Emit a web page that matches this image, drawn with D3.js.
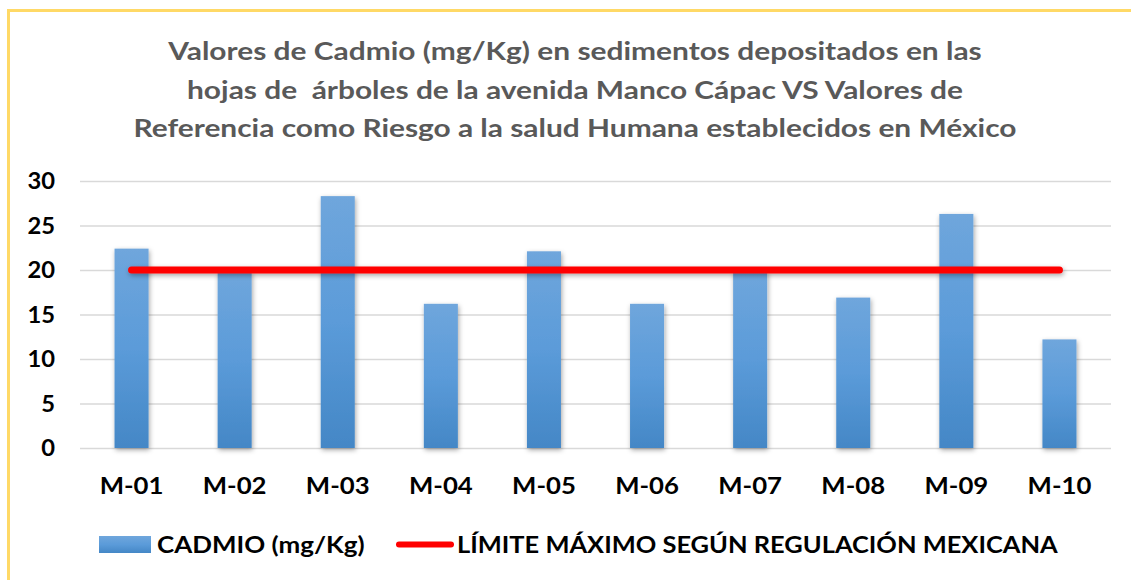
<!DOCTYPE html>
<html>
<head>
<meta charset="utf-8">
<script src="https://cdn.jsdelivr.net/npm/d3@7"></script>
<style>
  body { margin: 0; background: #fff; }
  svg { display: block; }
</style>
</head>
<body>
<div id="chart"></div>
<script>
// datos
var categories = ['M-01', 'M-02', 'M-03', 'M-04', 'M-05', 'M-06', 'M-07', 'M-08', 'M-09', 'M-10'];
var cadmio = [22.4, 19.8, 28.3, 16.2, 22.1, 16.2, 19.9, 16.9, 26.3, 12.2];
var limite = [20, 20, 20, 20, 20, 20, 20, 20, 20, 20];
var yTicks = [0, 5, 10, 15, 20, 25, 30];
var titleLines = [
    'Valores de Cadmio (mg/Kg) en sedimentos depositados en las',
    'hojas de  árboles de la avenida Manco Cápac VS Valores de',
    'Referencia como Riesgo a la salud Humana establecidos en México'
];
var legendNames = ['CADMIO (mg/Kg)', 'LÍMITE MÁXIMO SEGÚN REGULACIÓN MEXICANA'];

var width = 1131, height = 580;
var font = 'Lato, "Open Sans", sans-serif';

// estira el texto para parecerse al ancho de Calibri
function widen(sel, factor) {
    sel.each(function () {
        var len = this.getComputedTextLength();
        d3.select(this)
            .attr('textLength', len * factor)
            .attr('lengthAdjust', 'spacingAndGlyphs');
    });
}

var svg = d3.select('#chart').append('svg')
    .attr('width', width)
    .attr('height', height);

var defs = svg.append('defs');

var grad = defs.append('linearGradient')
    .attr('id', 'barGrad')
    .attr('x1', 0).attr('y1', 0).attr('x2', 0).attr('y2', 1);
grad.append('stop').attr('offset', '0%').attr('stop-color', '#6fa6dc');
grad.append('stop').attr('offset', '50%').attr('stop-color', '#5b9bd9');
grad.append('stop').attr('offset', '100%').attr('stop-color', '#4487c6');

var shadow = defs.append('filter')
    .attr('id', 'shadow')
    .attr('filterUnits', 'userSpaceOnUse')
    .attr('x', 0).attr('y', 0)
    .attr('width', width).attr('height', height);
shadow.append('feDropShadow')
    .attr('dx', 1).attr('dy', 2)
    .attr('stdDeviation', 2.5)
    .attr('flood-color', '#000')
    .attr('flood-opacity', 0.35);

// borde amarillo
svg.append('rect')
    .attr('x', 8.5).attr('y', 10.5)
    .attr('width', 1140).attr('height', 600)
    .attr('fill', 'none')
    .attr('stroke', '#ffd966')
    .attr('stroke-width', 3);

// titulo
svg.append('g').selectAll('text')
    .data(titleLines)
    .join('text')
    .attr('x', 575)
    .attr('y', function (d, i) { return 60 + i * 38.5; })
    .attr('text-anchor', 'middle')
    .attr('font-family', font)
    .attr('font-weight', 'bold')
    .attr('font-size', 24.5)
    .attr('fill', '#595959')
    .style('white-space', 'pre')
    .text(function (d) { return d; })
    .call(widen, 1.22);

var x = d3.scaleBand()
    .domain(categories)
    .range([80, 1111])
    .paddingInner(0.67)
    .paddingOuter(0.335);

var y = d3.scaleLinear()
    .domain([0, 30])
    .range([448, 181]);

// lineas de cuadricula
svg.append('g')
    .attr('transform', 'translate(80,0)')
    .call(d3.axisLeft(y).tickValues(yTicks).tickSize(-1031).tickFormat(''))
    .call(function (g) { g.select('.domain').remove(); })
    .call(function (g) {
        g.selectAll('.tick line').attr('stroke', '#d9d9d9').attr('stroke-width', 1.5);
    });

// etiquetas eje y
svg.append('g')
    .attr('transform', 'translate(55,0)')
    .call(d3.axisLeft(y).tickValues(yTicks).tickSize(0).tickPadding(0))
    .call(function (g) { g.select('.domain').remove(); })
    .call(function (g) {
        g.selectAll('text')
            .attr('font-family', font)
            .attr('font-weight', 'bold')
            .attr('font-size', 22)
            .attr('fill', '#000')
            .attr('dy', '0.36em')
            .call(widen, 1.08);
    });

// etiquetas eje x
svg.append('g')
    .attr('transform', 'translate(0,475)')
    .call(d3.axisBottom(x).tickSize(0).tickPadding(0))
    .call(function (g) { g.select('.domain').remove(); })
    .call(function (g) {
        g.selectAll('text')
            .attr('font-family', font)
            .attr('font-weight', 'bold')
            .attr('font-size', 22)
            .attr('fill', '#000')
            .attr('dy', '0.85em')
            .call(widen, 1.17);
    });

// barras
svg.append('g').selectAll('rect')
    .data(cadmio)
    .join('rect')
    .attr('x', function (d, i) { return x(categories[i]); })
    .attr('y', function (d) { return y(d); })
    .attr('width', x.bandwidth())
    .attr('height', function (d) { return y(0) - y(d); })
    .attr('fill', 'url(#barGrad)')
    .attr('filter', 'url(#shadow)');

// linea limite
var line = d3.line()
    .x(function (d, i) { return x(categories[i]) + x.bandwidth() / 2; })
    .y(function (d) { return y(d); });

svg.append('path')
    .datum(limite)
    .attr('d', line)
    .attr('fill', 'none')
    .attr('stroke', '#ff0000')
    .attr('stroke-width', 7)
    .attr('stroke-linecap', 'round')
    .attr('filter', 'url(#shadow)');

// leyenda
var legend = svg.append('g');
legend.append('rect')
    .attr('x', 99).attr('y', 536)
    .attr('width', 52).attr('height', 17)
    .attr('fill', 'url(#barGrad)');
legend.append('text')
    .attr('x', 157).attr('y', 553)
    .attr('font-family', font)
    .attr('font-weight', 'bold')
    .attr('font-size', 22)
    .attr('fill', '#000')
    .text(legendNames[0])
    .call(widen, 1.18);
legend.append('line')
    .attr('x1', 399).attr('x2', 451)
    .attr('y1', 544.5).attr('y2', 544.5)
    .attr('stroke', '#ff0000')
    .attr('stroke-width', 6)
    .attr('stroke-linecap', 'round');
legend.append('text')
    .attr('x', 457).attr('y', 553)
    .attr('font-family', font)
    .attr('font-weight', 'bold')
    .attr('font-size', 22)
    .attr('fill', '#000')
    .text(legendNames[1])
    .call(widen, 1.156);
</script>
</body>
</html>
